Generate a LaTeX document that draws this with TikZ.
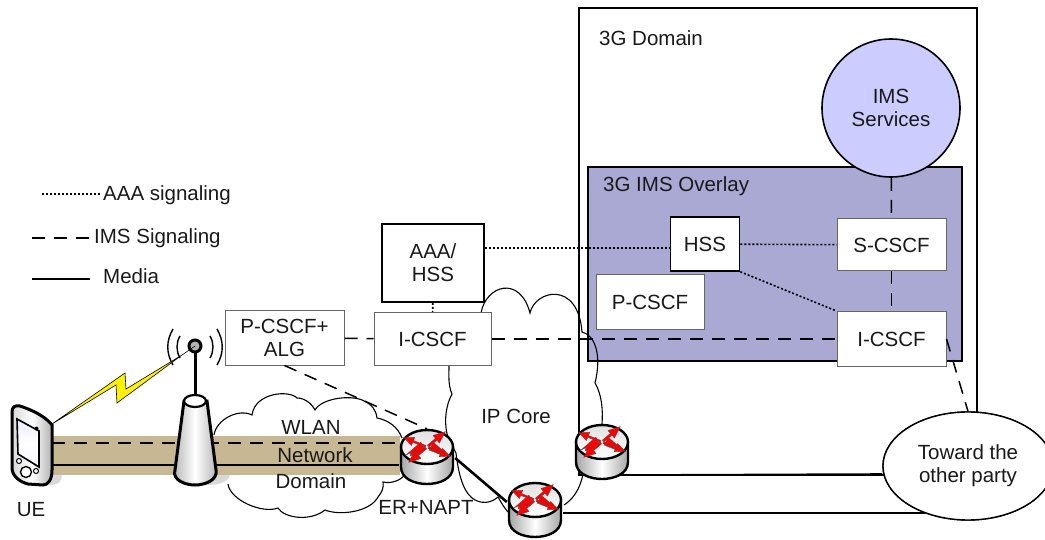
\documentclass[tikz,border=0pt]{standalone}
\usepackage{fontspec}
\setmainfont{Liberation Sans}
\usetikzlibrary{shapes.geometric}
\definecolor{overlay}{HTML}{A9A9D3}
\definecolor{imsfill}{HTML}{CCCCFF}
\definecolor{band}{HTML}{C7B793}
\definecolor{shadowgray}{HTML}{D9D9D9}
\tikzset{
  every node/.style={font=\fontsize{20.5}{23}\selectfont, text=black!90, align=center},
  label/.style={inner sep=0pt},
  gbox/.style={draw=black!60, line width=1pt, fill=white, inner sep=0pt},
  kbox/.style={draw=black, line width=1.6pt, fill=white, inner sep=0pt},
  ims/.style={dash pattern=on 13pt off 9pt, line width=1.5pt},
  aaa/.style={dash pattern=on 2pt off 2pt, line width=1.6pt},
  media/.style={line width=2.6pt},
  thin cloud/.style={line width=1.1pt},
  hub/.style={minimum width=56pt, minimum height=56pt, inner sep=0pt},
  redarrow/.style={fill=red, draw=black!70, line width=.3pt},
  router/.pic={
    \draw[line width=2.4pt, left color=black!35, right color=black!35, middle color=white]
      (-26,-10) -- (-26,10) .. controls (-26,22) and (-12,27) .. (0,27)
      .. controls (12,27) and (26,22) .. (26,10) -- (26,-10) -- cycle;
    \draw[line width=2.4pt, top color=black!12, bottom color=white]
      (0,-10) ellipse [x radius=26, y radius=17];
    \foreach \a in {1,-1}{
      \begin{scope}[cm={\a,0,0,1,(0,0)}]
        \path[redarrow] (-2,-7) -- (-17,-1) -- (-16,-4.5) -- (-21,-2) -- (-6,-15);
      \end{scope}
    }
    \foreach \r in {-22,158}{
      \begin{scope}[shift={(0,-10)},rotate=\r]
        \path[redarrow] (1.5,-1) -- (15,-1) -- (15,-4.5) -- (25,0) -- (15,4.5) -- (15,1) -- (1.5,1) -- cycle;
      \end{scope}
    }
    \foreach \r in {40,220}{
      \begin{scope}[shift={(0,-10)},rotate=\r]
        \path[redarrow] (1.5,-1.2) -- (12,-1.2) -- (12,-5) -- (24,0) -- (12,5) -- (12,1.2) -- (1.5,1.2) -- cycle;
      \end{scope}
    }
  }
}
\begin{document}
\begin{tikzpicture}[x=1pt,y=-1pt]
\useasboundingbox (0,0) rectangle (1045,540);

% 3G domain and overlay
\node[draw=black, line width=1.6pt, minimum width=398pt, minimum height=467pt, inner sep=0pt] (dom) at (778,241.5) {};
\node[label, anchor=west] (domt) at (599,38) {3G Domain};
\node[draw=black, line width=1.8pt, fill=overlay, minimum width=374pt, minimum height=194pt, inner sep=0pt] (ovl) at (775,264) {};
\node[label, anchor=west] (ovlt) at (603,186) {3G IMS Overlay};

% band and shadows
\fill[shadowgray] (52,470) -- (57,468) .. controls (64,472) and (64,484) .. (52,485) -- (40,485) -- cycle;
\fill[shadowgray] (205,447) .. controls (225,447) and (236,470) .. (228,479) .. controls (222,485) and (212,485) .. (200,485) -- cycle;
\fill[band] (52,436) rectangle (400,475);

% clouds
\draw[thin cloud]
  (214,435) .. controls (216,420) and (238,408) .. (252,415)
  .. controls (255,392) and (290,390) .. (297,398)
  .. controls (305,398) and (312,404) .. (315,410)
  .. controls (322,398) and (350,395) .. (362,400)
  .. controls (372,404) and (376,410) .. (377,418)
  .. controls (388,420) and (398,427) .. (402,438);
\draw[thin cloud]
  (228,484) .. controls (230,500) and (262,514) .. (278,508)
  .. controls (284,518) and (310,522) .. (325,510)
  .. controls (340,516) and (370,512) .. (378,497)
  .. controls (382,492) and (384,488) .. (383,482)
  .. controls (392,484) and (400,480) .. (404,476);
\draw[thin cloud]
  (481,313) .. controls (486,285) and (520,275) .. (530,313)
  .. controls (535,290) and (578,280) .. (582,332)
  .. controls (595,335) and (602,355) .. (595,383)
  .. controls (602,395) and (603,410) .. (602,424);
\draw[thin cloud]
  (583,474) .. controls (580,490) and (572,500) .. (564,505);
\draw[thin cloud]
  (508,512) .. controls (502,505) and (500,500) .. (498,497)
  .. controls (490,504) and (480,504) .. (472,498)
  .. controls (462,490) and (458,470) .. (456,453)
  .. controls (452,445) and (449,440) .. (447,434)
  .. controls (444,420) and (446,405) .. (452,394)
  .. controls (448,385) and (449,375) .. (449,366);

% named hubs
\node[hub] (er) at (427,457) {};
\node[hub] (rb) at (535,510) {};
\node[hub] (rc) at (602,452) {};
\node[draw=black, line width=1.6pt, fill=imsfill, circle, minimum size=138pt, inner sep=0pt] (svc) at (891,108) {IMS\\Services};
\node[kbox, minimum width=69pt, minimum height=54pt] (hss) at (705,244) {HSS};
\node[gbox, minimum width=109pt, minimum height=52pt] (scscf) at (891.5,245) {S-CSCF};
\node[gbox, minimum width=108pt, minimum height=55pt] (pcscf) at (650,302.5) {P-CSCF};
\node[gbox, minimum width=109pt, minimum height=55pt] (ic2) at (891.5,339) {I-CSCF};
\node[gbox, minimum width=117pt, minimum height=53pt] (ic1) at (432.5,339) {I-CSCF};
\node[gbox, minimum width=119pt, minimum height=54pt] (alg) at (284.5,338) {P-CSCF+\\ALG};
\node[kbox, minimum width=102pt, minimum height=78pt] (aaah) at (433,263) {AAA/\\HSS};
\node[draw=black, line width=1.4pt, fill=white, ellipse, minimum width=170pt, minimum height=108pt, inner sep=0pt] (toward) at (968,466) {Toward the\\other party};

% signaling connectors
\draw[aaa] (aaah) -- (ic1);
\draw[aaa] (aaah.east |- 0,248) -- (hss.west |- 0,248);
\draw[aaa] (hss) -- (scscf);
\draw[aaa] (hss.south east) -- (ic2.north west);
\draw[ims] (svc) -- (scscf);
\draw[ims] (scscf) -- (ic2);
\draw[ims] (alg) -- (ic1);
\draw[ims] (ic1) -- (ic2);
\draw[ims] (alg.south) -- (er.north);
\draw[ims] (ic2.east) -- (toward.north);
\draw[ims] (52,443) -- (er.west |- 0,443);
\draw[media] (52,465) -- (er.west |- 0,465);

% core links
\draw[line width=1.6pt] (rc.east |- 0,475) -- (toward.west |- 0,474);
\draw[media] (er.east |- 0,458) -- (rb.west |- 0,502);
\draw[media] (rb.east |- 0,513) -- (925,513);
\node[draw=black, line width=1.4pt, fill=white, ellipse, minimum width=170pt, minimum height=108pt, inner sep=0pt] at (968,466) {Toward the\\other party};

% tower and antenna
\coordinate (ball) at (195,346);
\coordinate (ue) at (52,424);
\draw[line width=3pt] (ball) -- (195,398);
\draw[line width=3pt, left color=black!30, right color=black!30, middle color=white]
  (184,401) -- (175,470) .. controls (172,480) and (185,485) .. (195,485)
  .. controls (205,485) and (218,480) .. (216,470) -- (207,401) -- cycle;
\draw[line width=2.2pt, fill=white] (195,401) ellipse [x radius=11, y radius=6];
\draw[line width=3pt, fill=black!30] (ball) circle [radius=6];
\draw[line width=1.4pt] (180,336) .. controls (176,343) and (176,351) .. (180,358);
\draw[line width=1.4pt] (210,336) .. controls (214,343) and (214,351) .. (210,358);
\draw[line width=1.4pt] (173,329) .. controls (166,341) and (166,353) .. (173,365);
\draw[line width=1.4pt] (217,329) .. controls (224,341) and (224,353) .. (217,365);

% radio bolt
\draw[line width=.6pt, fill=yellow] (ue) -- (125,373) -- (126,389) -- (182,355) -- (117,403) -- (116,385) -- cycle;
\draw[line width=.6pt] (182,355) -- (ball);

% phone
\draw[line width=3pt, left color=black!15, right color=black!30, middle color=white]
  (12,412) .. controls (12,407) and (15,405) .. (20,406) .. controls (32,410) and (45,416) .. (52,425)
  -- (52,470) .. controls (52,480) and (48,485) .. (43,485)
  -- (28,484) .. controls (20,482) and (12,476) .. (12,468) -- cycle;
\draw[line width=1.6pt, top color=blue!8, bottom color=blue!4, middle color=white] (17,419) -- (39,431) -- (39,467) -- (18,454) -- cycle;
\fill (36.5,428.5) circle [radius=2];
\draw[line width=1pt, fill=white] (19,461) circle [radius=2.5];
\draw[line width=1pt, fill=white] (36,471) circle [radius=2.5];
\draw[line width=1.4pt, fill=white] (26,472) circle [radius=5.5];

% routers
\pic at (er) {router};
\pic at (rb) {router};
\pic at (rc) {router};

% texts
\node[label] (uet) at (31,510) {UE};
\node[label] (wl1) at (311,427) {WLAN};
\node[label] (wl2) at (315,455) {Network};
\node[label] (wl3) at (311,481) {Domain};
\node[label] (ert) at (426,507) {ER+NAPT};
\node[label] (ipt) at (516,416) {IP Core};

% legend
\coordinate (la) at (42,194); \coordinate (lb) at (100,194);
\coordinate (lc) at (32,238); \coordinate (ld) at (90,238);
\coordinate (le) at (32,279); \coordinate (lf) at (90,279);
\draw[aaa] (la) -- (lb);
\draw[ims] (lc) -- (ld);
\draw[media] (le) -- (lf);
\node[label, anchor=west] (lt1) at (103,195) {AAA signaling};
\node[label, anchor=west] (lt2) at (94,238) {IMS Signaling};
\node[label, anchor=west] (lt3) at (103,276) {Media};
\end{tikzpicture}
\end{document}
